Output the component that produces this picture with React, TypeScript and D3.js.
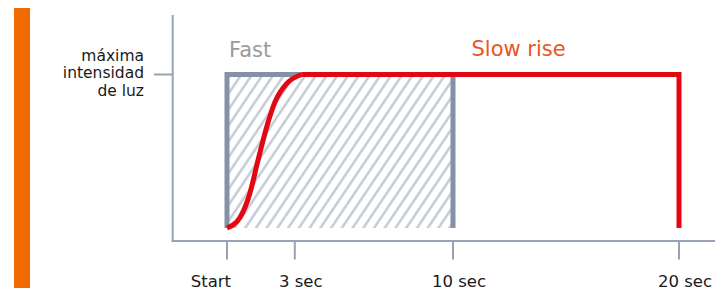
import * as d3 from 'd3';

// time ticks (seconds) and their labels
const tickValues = [0, 3, 10, 20];
const tickLabels = ['Start', '3 sec', '10 sec', '20 sec'];

// "Fast" window: full intensity from start to 10 sec
const fastWindow = [0, 10];

// "Slow rise" curve: [seconds, relative intensity]
const riseTimes = [0, 0.58, 1.02, 1.37, 1.76, 2.12, 2.64, 3.3];
const riseValues = [0, 0.07, 0.23, 0.44, 0.66, 0.82, 0.94, 1.0];
const holdTimes = [3.3, 20, 20];
const holdValues = [1, 1, 0];

const yLabel = ['máxima', 'intensidad', 'de luz'];

const W = 715;
const H = 292;
const font = '"DejaVu Sans", Verdana, sans-serif';
const axisColor = '#97a3b5';
const gray = '#8592a6';
const red = '#e30613';

const App = () => {
  const x = d3.scaleLinear().domain([0, 20]).range([227, 679]);
  const y = d3.scaleLinear().domain([0, 1]).range([228, 74.5]);

  const rise = riseTimes.map((t, i) => [t, riseValues[i]] as [number, number]);
  const hold = holdTimes.map((t, i) => [t, holdValues[i]] as [number, number]);

  const riseLine = d3.line<[number, number]>()
    .x(d => x(d[0]))
    .y(d => y(d[1]))
    .curve(d3.curveMonotoneX);
  const holdLine = d3.line<[number, number]>()
    .x(d => x(d[0]))
    .y(d => y(d[1]));

  const fx0 = x(fastWindow[0]);
  const fx1 = x(fastWindow[1]);
  const boxPath = `M${fx0},${y(0)}L${fx0},${y(1)}L${fx1},${y(1)}L${fx1},${y(0)}`;

  const axisX = 172.7;
  const axisY = 241;

  return (
    <svg width={W} height={H} style={{ position: 'absolute', left: 0, top: 0 }}>
      <style>{`body{margin:0}`}</style>
      <defs>
        <pattern id="hatch" patternUnits="userSpaceOnUse" width={8.9} height={8.9}
          patternTransform="rotate(34)">
          <line x1={1.5} y1={0} x2={1.5} y2={8.9} stroke="#bcc4d1" strokeWidth={2.2} />
        </pattern>
      </defs>

      {/* orange side bar */}
      <rect x={14} y={8} width={16} height={280} fill="#ef6a00" />

      {/* axes */}
      <line x1={axisX} y1={15} x2={axisX} y2={axisY + 1} stroke={axisColor} strokeWidth={2} />
      <line x1={axisX - 1} y1={axisY} x2={W} y2={axisY} stroke={axisColor} strokeWidth={2} />
      <line x1={154} y1={y(1)} x2={axisX} y2={y(1)} stroke={axisColor} strokeWidth={2} />

      {tickValues.map((t, i) => (
        <g key={t}>
          <line x1={x(t)} y1={axisY} x2={x(t)} y2={259.5} stroke={axisColor} strokeWidth={2} />
          <text
            x={i === 0 ? x(t) + 4 : x(t) + 6}
            y={287}
            textAnchor={i === 0 ? 'end' : 'middle'}
            fontFamily={font}
            fontSize={16.5}
            fill="#1a1a1a"
          >
            {tickLabels[i]}
          </text>
        </g>
      ))}

      {/* y label */}
      <text x={144} y={60.5} textAnchor="end" fontFamily={font} fontSize={15.5} fill="#1a1a1a">
        {yLabel.map((l, i) => (
          <tspan key={l} x={144} dy={i === 0 ? 0 : 17.5}>{l}</tspan>
        ))}
      </text>

      {/* fast window */}
      <rect x={fx0} y={y(1)} width={fx1 - fx0} height={y(0) - y(1)} fill="url(#hatch)" />
      <path d={boxPath} fill="none" stroke={gray} strokeWidth={5} strokeLinejoin="miter" />

      {/* slow rise */}
      <path d={riseLine(rise) ?? ''} fill="none" stroke={red} strokeWidth={5} />
      <path d={holdLine(hold) ?? ''} fill="none" stroke={red} strokeWidth={5} strokeLinejoin="miter" />

      <text x={229} y={56.5} fontFamily={font} fontSize={21} fill="#9a9a9a">Fast</text>
      <text x={471.5} y={56} fontFamily={font} fontSize={21} fill="#e9561f">Slow rise</text>
    </svg>
  );
};

export default App;
